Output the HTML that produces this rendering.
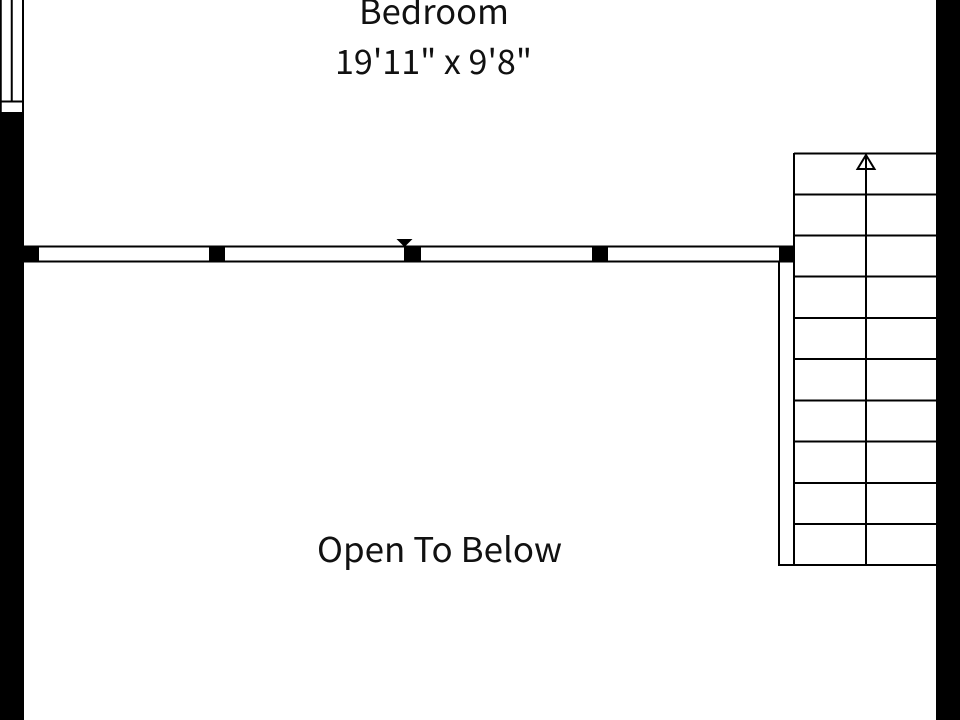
<!DOCTYPE html>
<html><head><meta charset="utf-8"><style>html,body{margin:0;padding:0;background:#fff}svg{display:block}text{font-family:"Noto Sans CJK SC","DejaVu Sans",sans-serif;font-size:34px;fill:#111}</style></head>
<body><svg width="960" height="720" viewBox="0 0 960 720" xmlns="http://www.w3.org/2000/svg">
<rect width="960" height="720" fill="#fff"/>
<rect x="936" y="0" width="24" height="720" fill="#000"/>
<rect x="0" y="112" width="24" height="608" fill="#000"/>
<g stroke="#000" stroke-width="2" fill="none">
<path d="M0.75 0V112M11.75 0V101M23 0V112M0 101.5H24"/>
<path d="M24 246.5H794M24 261.5H794"/>
<path d="M779 262V565M794 153V565M778 565H936"/>
<path d="M794 153.5H936M794 194.5H936M794 235.5H936M794 276.5H936M794 318H936M794 359H936M794 400.5H936M794 441.5H936M794 483H936M794 524H936"/>
<path d="M866 153V565"/>
<path d="M866 155L857.5 169H874.5Z"/>
</g>
<g fill="#000">
<rect x="24" y="246" width="15" height="16"/>
<rect x="209" y="246" width="16" height="16"/>
<rect x="404" y="246" width="17" height="16"/>
<rect x="592" y="246" width="16" height="16"/>
<rect x="779" y="246" width="15" height="16"/>
<path d="M396.5 239H412.5L404.5 247Z"/>
</g>
<text x="359" y="24" textLength="150" lengthAdjust="spacingAndGlyphs">Bedroom</text>
<text x="335" y="74" textLength="197" lengthAdjust="spacingAndGlyphs">19'11" x 9'8"</text>
<text x="317" y="562" textLength="245" lengthAdjust="spacingAndGlyphs">Open To Below</text>
</svg></body></html>
